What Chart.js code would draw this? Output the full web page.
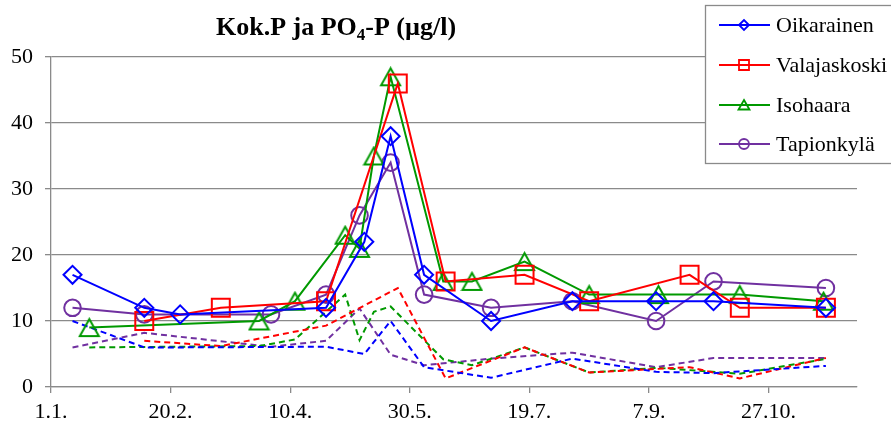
<!DOCTYPE html>
<html lang="fi">
<head>
<meta charset="UTF-8">
<title>Kok.P ja PO4-P</title>
<script src="https://cdn.jsdelivr.net/npm/chart.js@4.4.1/dist/chart.umd.min.js"></script>
<style>
  body { margin: 0; background: #fff; }
</style>
</head>
<body>
<canvas id="chart" width="891" height="423"></canvas>
<script>
// sampling dates and results per station, µg/l
const oikarainenDates = ['2012-01-10', '2012-02-09', '2012-02-24', '2012-04-25', '2012-05-11', '2012-05-22',
                         '2012-06-05', '2012-07-03', '2012-08-06', '2012-09-10', '2012-10-04', '2012-11-20'];
const oikarainenTotP = [17, 12, 11, 12, 22, 38, 17, 10, 13, 13, 13, 12];
const oikarainenPO4  = [10, 6, 6, 6.1, 5, 10, 3, 1.4, 4.3, 2.3, 2.1, 3.2];

const valajaskoskiDates = ['2012-02-09', '2012-03-12', '2012-04-25', '2012-05-25', '2012-06-14',
                           '2012-07-17', '2012-08-13', '2012-09-24', '2012-10-15', '2012-11-20'];
const valajaskoskiTotP = [10, 12, 13, 46, 16, 17, 13, 17, 12, 12];
const valajaskoskiPO4  = [7, 6.2, 9.3, 15, 1.3, 6, 2.2, 3, 1.3, 4.4];

const isohaaraDates = ['2012-01-17', '2012-03-28', '2012-04-12', '2012-05-03', '2012-05-09', '2012-05-15', '2012-05-22',
                       '2012-06-13', '2012-06-25', '2012-07-17', '2012-08-13', '2012-09-11', '2012-10-15', '2012-11-19'];
const isohaaraTotP = [9, 10, 13, 23, 21, 35, 47, 16, 16, 19, 14, 14, 14, 13];
const isohaaraPO4  = [6, 6.2, 7.2, 14, 7.1, 11.4, 12.2, 4.2, 3.3, 6, 2.2, 2.9, 2.0, 4.2];

const tapionkylaDates = ['2012-01-10', '2012-02-09', '2012-04-02', '2012-04-25', '2012-05-09', '2012-05-22',
                         '2012-06-05', '2012-07-03', '2012-08-06', '2012-09-10', '2012-10-04', '2012-11-20'];
const tapionkylaTotP = [12, 11, 11, 14, 26, 34, 14, 12, 13, 10, 16, 15];
const tapionkylaPO4  = [6, 8.2, 6.1, 7, 11.9, 4.9, 3.3, 4.3, 5.2, 3, 4.4, 4.4];

// x axis in days from 1.1.
const tickDays   = [0, 50, 100, 150, 200, 250, 300];
const tickLabels = ['1.1.', '20.2.', '10.4.', '30.5.', '19.7.', '7.9.', '27.10.'];
const yTicks     = [0, 10, 20, 30, 40, 50];

const serif = '"Liberation Serif", "Times New Roman", serif';
const gridColor = '#8a8a8a';

function dayOfYear(iso) {
  const d = new Date(iso + 'T00:00:00Z');
  return (d - Date.UTC(d.getUTCFullYear(), 0, 1)) / 86400000;
}

function toPoints(dates, values) {
  return dates.map((d, i) => ({ x: dayOfYear(d), y: values[i] }));
}

// triangle centred on its bounding box, hollow
function triangleMarker(color, w, h, lw) {
  const c = document.createElement('canvas');
  c.width = w + 4; c.height = h + 4;
  const g = c.getContext('2d');
  g.strokeStyle = color;
  g.lineWidth = lw;
  g.beginPath();
  g.moveTo(c.width / 2, 2);
  g.lineTo(c.width - 2, c.height - 2);
  g.lineTo(2, c.height - 2);
  g.closePath();
  g.stroke();
  return c;
}

const stations = [
  { name: 'Oikarainen', color: '#0000ff', style: 'rectRot', radius: 9,
    dates: oikarainenDates, totP: oikarainenTotP, po4: oikarainenPO4 },
  { name: 'Valajaskoski', color: '#ff0000', style: 'rect', radius: 12.7,
    dates: valajaskoskiDates, totP: valajaskoskiTotP, po4: valajaskoskiPO4 },
  { name: 'Isohaara', color: '#009900', style: triangleMarker('#009900', 19, 17, 2), radius: 10,
    dates: isohaaraDates, totP: isohaaraTotP, po4: isohaaraPO4 },
  { name: 'Tapionkylä', color: '#7030a0', style: 'circle', radius: 8.3,
    dates: tapionkylaDates, totP: tapionkylaTotP, po4: tapionkylaPO4 }
];

const datasets = [];
stations.forEach(s => {
  datasets.push({
    label: s.name,
    data: toPoints(s.dates, s.totP),
    borderColor: s.color,
    borderWidth: 2,
    pointStyle: s.style,
    pointRadius: s.radius,
    pointBorderColor: s.color,
    pointBackgroundColor: 'rgba(0,0,0,0)',
    pointBorderWidth: 2,
    tension: 0
  });
});
stations.forEach(s => {
  datasets.push({
    label: s.name + ' PO4-P',
    data: toPoints(s.dates, s.po4),
    borderColor: s.color,
    borderWidth: 2,
    borderDash: [6, 4],
    pointRadius: 0,
    tension: 0
  });
});

const titlePlugin = {
  id: 'subscriptTitle',
  afterDraw(chart) {
    const ctx = chart.ctx;
    ctx.save();
    ctx.fillStyle = '#000';
    ctx.textBaseline = 'alphabetic';
    let x = 216;
    const y = 35;
    const parts = [
      ['Kok.P ja PO', 'bold 26px ' + serif, 0],
      ['4', 'bold 17px ' + serif, 5],
      ['-P (µg/l)', 'bold 26px ' + serif, 0]
    ];
    parts.forEach(([text, font, dy]) => {
      ctx.font = font;
      ctx.fillText(text, x, y + dy);
      x += ctx.measureText(text).width;
    });
    ctx.restore();
  }
};

function smallMarker(ctx, style, color, x, y) {
  ctx.strokeStyle = color;
  ctx.lineWidth = 1.8;
  ctx.beginPath();
  if (style === 'rectRot') {
    ctx.moveTo(x - 5, y); ctx.lineTo(x, y - 5); ctx.lineTo(x + 5, y); ctx.lineTo(x, y + 5); ctx.closePath();
  } else if (style === 'rect') {
    ctx.rect(x - 5, y - 5, 10, 10);
  } else if (style === 'circle') {
    ctx.arc(x, y, 5, 0, Math.PI * 2);
  } else {
    ctx.moveTo(x, y - 5); ctx.lineTo(x + 5.5, y + 4.5); ctx.lineTo(x - 5.5, y + 4.5); ctx.closePath();
  }
  ctx.stroke();
}

const legendPlugin = {
  id: 'boxLegend',
  afterDraw(chart) {
    const ctx = chart.ctx;
    ctx.save();
    ctx.fillStyle = '#fff';
    ctx.fillRect(705, 5, 200, 158);
    ctx.strokeStyle = gridColor;
    ctx.lineWidth = 1.3;
    ctx.strokeRect(705.5, 5.5, 200, 158);
    ctx.font = '22px ' + serif;
    ctx.textBaseline = 'middle';
    const rows = [25, 65, 105, 144];
    stations.forEach((s, i) => {
      const y = rows[i];
      ctx.strokeStyle = s.color;
      ctx.lineWidth = 2;
      ctx.beginPath();
      ctx.moveTo(719, y);
      ctx.lineTo(770, y);
      ctx.stroke();
      smallMarker(ctx, typeof s.style === 'string' ? s.style : 'triangle', s.color, 744, y);
      ctx.fillStyle = '#000';
      ctx.fillText(s.name, 776, y + 1);
    });
    ctx.restore();
  }
};

new Chart(document.getElementById('chart'), {
  type: 'line',
  data: { datasets },
  options: {
    responsive: false,
    animation: false,
    devicePixelRatio: 1,
    layout: { padding: { top: 57, right: 34, left: 0, bottom: 0 } },
    plugins: {
      legend: { display: false },
      title: { display: false },
      tooltip: { enabled: false }
    },
    scales: {
      x: {
        type: 'linear',
        min: 0,
        max: 337,
        afterBuildTicks: scale => { scale.ticks = tickDays.map(v => ({ value: v })); },
        afterFit: scale => { scale.height = 36; },
        grid: { drawOnChartArea: false, drawTicks: true, tickLength: 6, color: gridColor, lineWidth: 1.3 },
        border: { color: gridColor, width: 1.3 },
        ticks: {
          color: '#000',
          font: { family: serif, size: 22 },
          padding: 6,
          maxRotation: 0,
          autoSkip: false,
          callback: value => tickLabels[tickDays.indexOf(value)]
        }
      },
      y: {
        min: 0,
        max: 50,
        afterBuildTicks: scale => { scale.ticks = yTicks.map(v => ({ value: v })); },
        afterFit: scale => { scale.width = 51; },
        grid: { color: gridColor, lineWidth: 1.3, tickLength: 6 },
        border: { color: gridColor, width: 1.3 },
        ticks: {
          color: '#000',
          font: { family: serif, size: 22 },
          padding: 12
        }
      }
    }
  },
  plugins: [titlePlugin, legendPlugin]
});
</script>
</body>
</html>
